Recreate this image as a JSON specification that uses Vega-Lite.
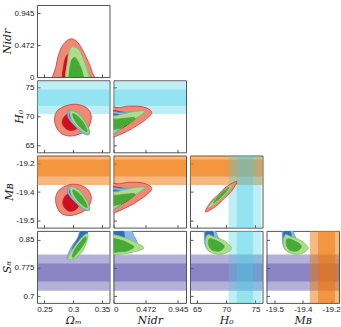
{
"$schema": "https://vega.github.io/schema/vega-lite/v6.json",
"padding": {"left": 1, "top": 4, "right": 3, "bottom": 0},
"columns": 4,
"bounds": "flush",
"spacing": {"row": 3.3, "column": 3.5},
"datasets": {
"bands": [
{"b":"H0","lo":70.4,"hi":76.0},{"b":"H0","lo":71.8,"hi":74.6},
{"b":"MB","lo":-19.344,"hi":-19.196},{"b":"MB","lo":-19.307,"hi":-19.233},
{"b":"S8","lo":0.7145,"hi":0.8105},{"b":"S8","lo":0.7385,"hi":0.7865}
],
"c": [
{"p":"a","g":"r1","i":0,"x":0.268,"y":-0.1},{"p":"a","g":"r1","i":1,"x":0.270,"y":0.16},{"p":"a","g":"r1","i":2,"x":0.279,"y":0.43},{"p":"a","g":"r1","i":3,"x":0.2936,"y":0.56},{"p":"a","g":"r1","i":4,"x":0.308,"y":0.51},{"p":"a","g":"r1","i":5,"x":0.3226,"y":0.29},{"p":"a","g":"r1","i":6,"x":0.333,"y":0.07},{"p":"a","g":"r1","i":7,"x":0.335,"y":-0.1},
{"p":"a","g":"r2","i":0,"x":0.283,"y":-0.1},{"p":"a","g":"r2","i":1,"x":0.284,"y":0.2},{"p":"a","g":"r2","i":2,"x":0.290,"y":0.33},{"p":"a","g":"r2","i":3,"x":0.298,"y":0.32},{"p":"a","g":"r2","i":4,"x":0.308,"y":0.2},{"p":"a","g":"r2","i":5,"x":0.313,"y":-0.1},
{"p":"a","g":"b1","i":0,"x":0.2905,"y":-0.1},{"p":"a","g":"b1","i":1,"x":0.2915,"y":0.12},{"p":"a","g":"b1","i":2,"x":0.300,"y":0.17},{"p":"a","g":"b1","i":3,"x":0.315,"y":0.13},{"p":"a","g":"b1","i":4,"x":0.3295,"y":0.02},{"p":"a","g":"b1","i":5,"x":0.330,"y":-0.1},
{"p":"a","g":"b2","i":0,"x":0.295,"y":-0.1},{"p":"a","g":"b2","i":1,"x":0.296,"y":0.08},{"p":"a","g":"b2","i":2,"x":0.305,"y":0.11},{"p":"a","g":"b2","i":3,"x":0.318,"y":0.04},{"p":"a","g":"b2","i":4,"x":0.32,"y":-0.1},
{"p":"a","g":"g1","i":0,"x":0.289,"y":-0.1},{"p":"a","g":"g1","i":1,"x":0.2905,"y":0.26},{"p":"a","g":"g1","i":2,"x":0.2935,"y":0.39},{"p":"a","g":"g1","i":3,"x":0.2995,"y":0.45},{"p":"a","g":"g1","i":4,"x":0.311,"y":0.39},{"p":"a","g":"g1","i":5,"x":0.3197,"y":0.22},{"p":"a","g":"g1","i":6,"x":0.327,"y":0.02},{"p":"a","g":"g1","i":7,"x":0.328,"y":-0.1},
{"p":"a","g":"g2","i":0,"x":0.294,"y":-0.1},{"p":"a","g":"g2","i":1,"x":0.2955,"y":0.2},{"p":"a","g":"g2","i":2,"x":0.302,"y":0.29},{"p":"a","g":"g2","i":3,"x":0.309,"y":0.22},{"p":"a","g":"g2","i":4,"x":0.3165,"y":0.05},{"p":"a","g":"g2","i":5,"x":0.318,"y":-0.1},

{"p":"b","g":"r1","i":0,"x":0.2995,"y":72.07},{"p":"b","g":"r1","i":1,"x":0.3226,"y":71.5},{"p":"b","g":"r1","i":2,"x":0.3314,"y":69.88},{"p":"b","g":"r1","i":3,"x":0.3226,"y":67.59},{"p":"b","g":"r1","i":4,"x":0.2965,"y":66.6},{"p":"b","g":"r1","i":5,"x":0.2761,"y":67.29},{"p":"b","g":"r1","i":6,"x":0.2674,"y":69.31},{"p":"b","g":"r1","i":7,"x":0.2744,"y":71.16},
{"p":"b","g":"r2","i":0,"x":0.296,"y":70.47},{"p":"b","g":"r2","i":1,"x":0.308,"y":69.9},{"p":"b","g":"r2","i":2,"x":0.311,"y":68.8},{"p":"b","g":"r2","i":3,"x":0.305,"y":67.8},{"p":"b","g":"r2","i":4,"x":0.293,"y":67.59},{"p":"b","g":"r2","i":5,"x":0.284,"y":68.2},{"p":"b","g":"r2","i":6,"x":0.2808,"y":69.1},{"p":"b","g":"r2","i":7,"x":0.286,"y":70.1},
{"p":"b","g":"b1","i":0,"x":0.293,"y":71.0},{"p":"b","g":"b1","i":1,"x":0.3092,"y":70.5},{"p":"b","g":"b1","i":2,"x":0.3186,"y":69.3},{"p":"b","g":"b1","i":3,"x":0.327,"y":67.9},{"p":"b","g":"b1","i":4,"x":0.328,"y":66.9},{"p":"b","g":"b1","i":5,"x":0.318,"y":67.0},{"p":"b","g":"b1","i":6,"x":0.303,"y":68.3},{"p":"b","g":"b1","i":7,"x":0.291,"y":69.8},
{"p":"b","g":"b2","i":0,"x":0.296,"y":70.6},{"p":"b","g":"b2","i":1,"x":0.31,"y":69.9},{"p":"b","g":"b2","i":2,"x":0.32,"y":68.4},{"p":"b","g":"b2","i":3,"x":0.325,"y":67.3},{"p":"b","g":"b2","i":4,"x":0.317,"y":67.5},{"p":"b","g":"b2","i":5,"x":0.303,"y":68.8},{"p":"b","g":"b2","i":6,"x":0.294,"y":69.9},
{"p":"b","g":"g1","i":0,"x":0.2953,"y":70.91},{"p":"b","g":"g1","i":1,"x":0.3092,"y":70.42},{"p":"b","g":"g1","i":2,"x":0.3186,"y":69.26},{"p":"b","g":"g1","i":3,"x":0.3260,"y":67.93},{"p":"b","g":"g1","i":4,"x":0.3267,"y":67.02},{"p":"b","g":"g1","i":5,"x":0.3179,"y":67.28},{"p":"b","g":"g1","i":6,"x":0.3064,"y":68.29},{"p":"b","g":"g1","i":7,"x":0.2970,"y":69.46},
{"p":"b","g":"g2","i":0,"x":0.2991,"y":70.45},{"p":"b","g":"g2","i":1,"x":0.3098,"y":69.83},{"p":"b","g":"g2","i":2,"x":0.3192,"y":68.66},{"p":"b","g":"g2","i":3,"x":0.3242,"y":67.33},{"p":"b","g":"g2","i":4,"x":0.3122,"y":68.10},{"p":"b","g":"g2","i":5,"x":0.3028,"y":69.28},

{"p":"c","g":"r1","i":0,"x":-0.1,"y":71.1},{"p":"c","g":"r1","i":1,"x":0.1,"y":71.5},{"p":"c","g":"r1","i":2,"x":0.226,"y":71.75},{"p":"c","g":"r1","i":3,"x":0.442,"y":71.6},{"p":"c","g":"r1","i":4,"x":0.561,"y":70.74},{"p":"c","g":"r1","i":5,"x":0.489,"y":69.6},{"p":"c","g":"r1","i":6,"x":0.273,"y":67.88},{"p":"c","g":"r1","i":7,"x":0.033,"y":66.55},{"p":"c","g":"r1","i":8,"x":-0.1,"y":66.3},
{"p":"c","g":"r2","i":0,"x":-0.1,"y":70.8},{"p":"c","g":"r2","i":1,"x":0.1,"y":70.8},{"p":"c","g":"r2","i":2,"x":0.2,"y":70.4},{"p":"c","g":"r2","i":3,"x":0.3,"y":69.6},{"p":"c","g":"r2","i":4,"x":0.2,"y":68.5},{"p":"c","g":"r2","i":5,"x":0.05,"y":67.6},{"p":"c","g":"r2","i":6,"x":-0.1,"y":67.5},
{"p":"c","g":"b1","i":0,"x":-0.1,"y":70.6},{"p":"c","g":"b1","i":1,"x":0.1,"y":70.7},{"p":"c","g":"b1","i":2,"x":0.25,"y":70.7},{"p":"c","g":"b1","i":3,"x":0.4,"y":70.9},{"p":"c","g":"b1","i":4,"x":0.45,"y":70.7},{"p":"c","g":"b1","i":5,"x":0.3,"y":69.6},{"p":"c","g":"b1","i":6,"x":0.12,"y":68.0},{"p":"c","g":"b1","i":7,"x":0.02,"y":67.1},{"p":"c","g":"b1","i":8,"x":-0.1,"y":67.0},
{"p":"c","g":"b2","i":0,"x":-0.1,"y":70.3},{"p":"c","g":"b2","i":1,"x":0.1,"y":70.3},{"p":"c","g":"b2","i":2,"x":0.2,"y":70.0},{"p":"c","g":"b2","i":3,"x":0.15,"y":69.0},{"p":"c","g":"b2","i":4,"x":0.03,"y":68.3},{"p":"c","g":"b2","i":5,"x":-0.1,"y":68.2},
{"p":"c","g":"g1","i":0,"x":-0.1,"y":69.9},{"p":"c","g":"g1","i":1,"x":0.033,"y":70.1},{"p":"c","g":"g1","i":2,"x":0.226,"y":70.64},{"p":"c","g":"g1","i":3,"x":0.393,"y":70.93},{"p":"c","g":"g1","i":4,"x":0.456,"y":70.74},{"p":"c","g":"g1","i":5,"x":0.321,"y":69.6},{"p":"c","g":"g1","i":6,"x":0.129,"y":68.16},{"p":"c","g":"g1","i":7,"x":0.024,"y":67.29},{"p":"c","g":"g1","i":8,"x":-0.1,"y":67.1},
{"p":"c","g":"g2","i":0,"x":-0.1,"y":69.5},{"p":"c","g":"g2","i":1,"x":0.05,"y":69.5},{"p":"c","g":"g2","i":2,"x":0.2,"y":69.7},{"p":"c","g":"g2","i":3,"x":0.3,"y":69.8},{"p":"c","g":"g2","i":4,"x":0.31,"y":69.4},{"p":"c","g":"g2","i":5,"x":0.2,"y":68.6},{"p":"c","g":"g2","i":6,"x":0.08,"y":67.9},{"p":"c","g":"g2","i":7,"x":-0.1,"y":67.7},

{"p":"d","g":"r1","i":0,"x":0.2995,"y":-19.3405},{"p":"d","g":"r1","i":1,"x":0.3226,"y":-19.3578},{"p":"d","g":"r1","i":2,"x":0.3314,"y":-19.4009},{"p":"d","g":"r1","i":3,"x":0.3226,"y":-19.4509},{"p":"d","g":"r1","i":4,"x":0.2977,"y":-19.4767},{"p":"d","g":"r1","i":5,"x":0.2779,"y":-19.4655},{"p":"d","g":"r1","i":6,"x":0.2692,"y":-19.412},{"p":"d","g":"r1","i":7,"x":0.2761,"y":-19.3647},
{"p":"d","g":"r2","i":0,"x":0.296,"y":-19.3793},{"p":"d","g":"r2","i":1,"x":0.308,"y":-19.39},{"p":"d","g":"r2","i":2,"x":0.311,"y":-19.42},{"p":"d","g":"r2","i":3,"x":0.305,"y":-19.45},{"p":"d","g":"r2","i":4,"x":0.293,"y":-19.4582},{"p":"d","g":"r2","i":5,"x":0.284,"y":-19.44},{"p":"d","g":"r2","i":6,"x":0.2821,"y":-19.415},{"p":"d","g":"r2","i":7,"x":0.287,"y":-19.39},
{"p":"d","g":"b1","i":0,"x":0.293,"y":-19.3513},{"p":"d","g":"b1","i":1,"x":0.3092,"y":-19.3638},{"p":"d","g":"b1","i":2,"x":0.3186,"y":-19.3938},{"p":"d","g":"b1","i":3,"x":0.327,"y":-19.4288},{"p":"d","g":"b1","i":4,"x":0.328,"y":-19.4538},{"p":"d","g":"b1","i":5,"x":0.318,"y":-19.4513},{"p":"d","g":"b1","i":6,"x":0.303,"y":-19.4188},{"p":"d","g":"b1","i":7,"x":0.291,"y":-19.3813},
{"p":"d","g":"b2","i":0,"x":0.296,"y":-19.3613},{"p":"d","g":"b2","i":1,"x":0.31,"y":-19.3788},{"p":"d","g":"b2","i":2,"x":0.32,"y":-19.4163},{"p":"d","g":"b2","i":3,"x":0.325,"y":-19.4438},{"p":"d","g":"b2","i":4,"x":0.317,"y":-19.4388},{"p":"d","g":"b2","i":5,"x":0.303,"y":-19.4063},{"p":"d","g":"b2","i":6,"x":0.294,"y":-19.3788},
{"p":"d","g":"g1","i":0,"x":0.2953,"y":-19.3534},{"p":"d","g":"g1","i":1,"x":0.3092,"y":-19.3657},{"p":"d","g":"g1","i":2,"x":0.3186,"y":-19.3948},{"p":"d","g":"g1","i":3,"x":0.3260,"y":-19.428},{"p":"d","g":"g1","i":4,"x":0.3267,"y":-19.4509},{"p":"d","g":"g1","i":5,"x":0.3179,"y":-19.4444},{"p":"d","g":"g1","i":6,"x":0.3064,"y":-19.419},{"p":"d","g":"g1","i":7,"x":0.2970,"y":-19.3899},
{"p":"d","g":"g2","i":0,"x":0.2991,"y":-19.3651},{"p":"d","g":"g2","i":1,"x":0.3098,"y":-19.3806},{"p":"d","g":"g2","i":2,"x":0.3192,"y":-19.4099},{"p":"d","g":"g2","i":3,"x":0.3242,"y":-19.4431},{"p":"d","g":"g2","i":4,"x":0.3122,"y":-19.4237},{"p":"d","g":"g2","i":5,"x":0.3028,"y":-19.3944},

{"p":"e","g":"r1","i":0,"x":-0.1,"y":-19.3488},{"p":"e","g":"r1","i":1,"x":0.1,"y":-19.3388},{"p":"e","g":"r1","i":2,"x":0.226,"y":-19.3326},{"p":"e","g":"r1","i":3,"x":0.442,"y":-19.3363},{"p":"e","g":"r1","i":4,"x":0.561,"y":-19.3578},{"p":"e","g":"r1","i":5,"x":0.489,"y":-19.3863},{"p":"e","g":"r1","i":6,"x":0.273,"y":-19.4293},{"p":"e","g":"r1","i":7,"x":0.033,"y":-19.4626},{"p":"e","g":"r1","i":8,"x":-0.1,"y":-19.4688},
{"p":"e","g":"r2","i":0,"x":-0.1,"y":-19.3563},{"p":"e","g":"r2","i":1,"x":0.1,"y":-19.3563},{"p":"e","g":"r2","i":2,"x":0.2,"y":-19.3663},{"p":"e","g":"r2","i":3,"x":0.3,"y":-19.3863},{"p":"e","g":"r2","i":4,"x":0.2,"y":-19.4138},{"p":"e","g":"r2","i":5,"x":0.05,"y":-19.4363},{"p":"e","g":"r2","i":6,"x":-0.1,"y":-19.4388},
{"p":"e","g":"b1","i":0,"x":-0.1,"y":-19.3613},{"p":"e","g":"b1","i":1,"x":0.1,"y":-19.3588},{"p":"e","g":"b1","i":2,"x":0.25,"y":-19.3588},{"p":"e","g":"b1","i":3,"x":0.4,"y":-19.3538},{"p":"e","g":"b1","i":4,"x":0.45,"y":-19.3588},{"p":"e","g":"b1","i":5,"x":0.3,"y":-19.3863},{"p":"e","g":"b1","i":6,"x":0.12,"y":-19.4263},{"p":"e","g":"b1","i":7,"x":0.02,"y":-19.4488},{"p":"e","g":"b1","i":8,"x":-0.1,"y":-19.4513},
{"p":"e","g":"b2","i":0,"x":-0.1,"y":-19.3688},{"p":"e","g":"b2","i":1,"x":0.1,"y":-19.3688},{"p":"e","g":"b2","i":2,"x":0.2,"y":-19.3763},{"p":"e","g":"b2","i":3,"x":0.15,"y":-19.4013},{"p":"e","g":"b2","i":4,"x":0.03,"y":-19.4188},{"p":"e","g":"b2","i":5,"x":-0.1,"y":-19.4213},
{"p":"e","g":"g1","i":0,"x":-0.1,"y":-19.3788},{"p":"e","g":"g1","i":1,"x":0.033,"y":-19.3738},{"p":"e","g":"g1","i":2,"x":0.226,"y":-19.3603},{"p":"e","g":"g1","i":3,"x":0.393,"y":-19.353},{"p":"e","g":"g1","i":4,"x":0.456,"y":-19.3578},{"p":"e","g":"g1","i":5,"x":0.321,"y":-19.3863},{"p":"e","g":"g1","i":6,"x":0.129,"y":-19.4223},{"p":"e","g":"g1","i":7,"x":0.024,"y":-19.4441},{"p":"e","g":"g1","i":8,"x":-0.1,"y":-19.4488},
{"p":"e","g":"g2","i":0,"x":-0.1,"y":-19.3888},{"p":"e","g":"g2","i":1,"x":0.05,"y":-19.3888},{"p":"e","g":"g2","i":2,"x":0.2,"y":-19.3838},{"p":"e","g":"g2","i":3,"x":0.3,"y":-19.3813},{"p":"e","g":"g2","i":4,"x":0.31,"y":-19.3913},{"p":"e","g":"g2","i":5,"x":0.2,"y":-19.4113},{"p":"e","g":"g2","i":6,"x":0.08,"y":-19.4288},{"p":"e","g":"g2","i":7,"x":-0.1,"y":-19.4338},

{"p":"f","g":"r1","i":0,"x":66.43,"y":-19.4612},{"p":"f","g":"r1","i":1,"x":67.34,"y":-19.4181},{"p":"f","g":"r1","i":2,"x":68.68,"y":-19.3849},{"p":"f","g":"r1","i":3,"x":70.02,"y":-19.3522},{"p":"f","g":"r1","i":4,"x":71.79,"y":-19.3289},{"p":"f","g":"r1","i":5,"x":70.875,"y":-19.372},{"p":"f","g":"r1","i":6,"x":69.54,"y":-19.4052},{"p":"f","g":"r1","i":7,"x":68.20,"y":-19.4379},
{"p":"f","g":"g1","i":0,"x":66.91,"y":-19.444},{"p":"f","g":"g1","i":1,"x":68.07,"y":-19.4039},{"p":"f","g":"g1","i":2,"x":69.54,"y":-19.3685},{"p":"f","g":"g1","i":3,"x":71.2,"y":-19.3405},{"p":"f","g":"g1","i":4,"x":70.04,"y":-19.3806},{"p":"f","g":"g1","i":5,"x":68.57,"y":-19.416},
{"p":"f","g":"g2","i":0,"x":67.80,"y":-19.4224},{"p":"f","g":"g2","i":1,"x":68.446,"y":-19.3987},{"p":"f","g":"g2","i":2,"x":69.518,"y":-19.3716},{"p":"f","g":"g2","i":3,"x":70.48,"y":-19.3547},{"p":"f","g":"g2","i":4,"x":69.839,"y":-19.3784},{"p":"f","g":"g2","i":5,"x":68.768,"y":-19.4056},

{"p":"g","g":"b1","i":0,"x":0.3145,"y":0.89},{"p":"g","g":"b1","i":1,"x":0.329,"y":0.89},{"p":"g","g":"b1","i":2,"x":0.3256,"y":0.872},{"p":"g","g":"b1","i":3,"x":0.3226,"y":0.852},{"p":"g","g":"b1","i":4,"x":0.311,"y":0.8253},{"p":"g","g":"b1","i":5,"x":0.2995,"y":0.8033},{"p":"g","g":"b1","i":6,"x":0.2918,"y":0.797},{"p":"g","g":"b1","i":7,"x":0.2895,"y":0.8033},{"p":"g","g":"b1","i":8,"x":0.2965,"y":0.8298},{"p":"g","g":"b1","i":9,"x":0.3082,"y":0.8564},
{"p":"g","g":"b2","i":0,"x":0.3175,"y":0.89},{"p":"g","g":"b2","i":1,"x":0.327,"y":0.89},{"p":"g","g":"b2","i":2,"x":0.3235,"y":0.865},{"p":"g","g":"b2","i":3,"x":0.316,"y":0.845},{"p":"g","g":"b2","i":4,"x":0.305,"y":0.826},{"p":"g","g":"b2","i":5,"x":0.2985,"y":0.818},{"p":"g","g":"b2","i":6,"x":0.2995,"y":0.83},{"p":"g","g":"b2","i":7,"x":0.3095,"y":0.857},
{"p":"g","g":"g1","i":0,"x":0.2908,"y":0.8007},{"p":"g","g":"g1","i":1,"x":0.2995,"y":0.8253},{"p":"g","g":"g1","i":2,"x":0.3127,"y":0.8519},{"p":"g","g":"g1","i":3,"x":0.3226,"y":0.8651},{"p":"g","g":"g1","i":4,"x":0.3256,"y":0.8564},{"p":"g","g":"g1","i":5,"x":0.3169,"y":0.8208},{"p":"g","g":"g1","i":6,"x":0.3052,"y":0.8033},{"p":"g","g":"g1","i":7,"x":0.2953,"y":0.797},
{"p":"g","g":"g2","i":0,"x":0.2985,"y":0.806},{"p":"g","g":"g2","i":1,"x":0.302,"y":0.822},{"p":"g","g":"g2","i":2,"x":0.312,"y":0.843},{"p":"g","g":"g2","i":3,"x":0.3205,"y":0.857},{"p":"g","g":"g2","i":4,"x":0.3225,"y":0.85},{"p":"g","g":"g2","i":5,"x":0.315,"y":0.83},{"p":"g","g":"g2","i":6,"x":0.3055,"y":0.812},{"p":"g","g":"g2","i":7,"x":0.3,"y":0.803},

{"p":"h","g":"b1","i":0,"x":-0.1,"y":0.89},{"p":"h","g":"b1","i":1,"x":0.2,"y":0.89},{"p":"h","g":"b1","i":2,"x":0.3,"y":0.86},{"p":"h","g":"b1","i":3,"x":0.35,"y":0.84},{"p":"h","g":"b1","i":4,"x":0.3,"y":0.826},{"p":"h","g":"b1","i":5,"x":0.15,"y":0.815},{"p":"h","g":"b1","i":6,"x":0,"y":0.812},{"p":"h","g":"b1","i":7,"x":-0.1,"y":0.81},
{"p":"h","g":"b2","i":0,"x":-0.1,"y":0.89},{"p":"h","g":"b2","i":1,"x":0.1,"y":0.89},{"p":"h","g":"b2","i":2,"x":0.16,"y":0.86},{"p":"h","g":"b2","i":3,"x":0.12,"y":0.845},{"p":"h","g":"b2","i":4,"x":0.03,"y":0.835},{"p":"h","g":"b2","i":5,"x":-0.1,"y":0.833},
{"p":"h","g":"g1","i":0,"x":-0.1,"y":0.863},{"p":"h","g":"g1","i":1,"x":0,"y":0.863},{"p":"h","g":"g1","i":2,"x":0.13,"y":0.857},{"p":"h","g":"g1","i":3,"x":0.273,"y":0.8466},{"p":"h","g":"g1","i":4,"x":0.446,"y":0.828},{"p":"h","g":"g1","i":5,"x":0.273,"y":0.816},{"p":"h","g":"g1","i":6,"x":0.13,"y":0.812},{"p":"h","g":"g1","i":7,"x":0,"y":0.8105},{"p":"h","g":"g1","i":8,"x":-0.1,"y":0.81},
{"p":"h","g":"g2","i":0,"x":-0.1,"y":0.852},{"p":"h","g":"g2","i":1,"x":0.1,"y":0.849},{"p":"h","g":"g2","i":2,"x":0.22,"y":0.84},{"p":"h","g":"g2","i":3,"x":0.3,"y":0.83},{"p":"h","g":"g2","i":4,"x":0.2,"y":0.82},{"p":"h","g":"g2","i":5,"x":0.08,"y":0.818},{"p":"h","g":"g2","i":6,"x":-0.1,"y":0.817},

{"p":"k","g":"b1","i":0,"x":66.43,"y":0.878},{"p":"k","g":"b1","i":1,"x":67.86,"y":0.878},{"p":"k","g":"b1","i":2,"x":68.57,"y":0.857},{"p":"k","g":"b1","i":3,"x":69.29,"y":0.8412},{"p":"k","g":"b1","i":4,"x":68.57,"y":0.8253},{"p":"k","g":"b1","i":5,"x":67.14,"y":0.82},{"p":"k","g":"b1","i":6,"x":66.43,"y":0.8333},{"p":"k","g":"b1","i":7,"x":66.25,"y":0.857},
{"p":"k","g":"b2","i":0,"x":66.61,"y":0.878},{"p":"k","g":"b2","i":1,"x":67.5,"y":0.878},{"p":"k","g":"b2","i":2,"x":67.86,"y":0.857},{"p":"k","g":"b2","i":3,"x":67.5,"y":0.8412},{"p":"k","g":"b2","i":4,"x":66.79,"y":0.8386},{"p":"k","g":"b2","i":5,"x":66.43,"y":0.857},
{"p":"k","g":"g1","i":0,"x":66.79,"y":0.8625},{"p":"k","g":"g1","i":1,"x":67.86,"y":0.8572},{"p":"k","g":"g1","i":2,"x":69.64,"y":0.8466},{"p":"k","g":"g1","i":3,"x":70.89,"y":0.828},{"p":"k","g":"g1","i":4,"x":70.0,"y":0.8147},{"p":"k","g":"g1","i":5,"x":68.57,"y":0.8107},{"p":"k","g":"g1","i":6,"x":66.96,"y":0.82},{"p":"k","g":"g1","i":7,"x":66.43,"y":0.8412},
{"p":"k","g":"g2","i":0,"x":67.14,"y":0.8519},{"p":"k","g":"g2","i":1,"x":68.39,"y":0.8466},{"p":"k","g":"g2","i":2,"x":69.64,"y":0.8333},{"p":"k","g":"g2","i":3,"x":68.93,"y":0.82},{"p":"k","g":"g2","i":4,"x":67.5,"y":0.8227},{"p":"k","g":"g2","i":5,"x":66.96,"y":0.8386},

{"p":"m","g":"b1","i":0,"x":-19.4605,"y":0.878},{"p":"m","g":"b1","i":1,"x":-19.4254,"y":0.878},{"p":"m","g":"b1","i":2,"x":-19.4079,"y":0.857},{"p":"m","g":"b1","i":3,"x":-19.3904,"y":0.8412},{"p":"m","g":"b1","i":4,"x":-19.4079,"y":0.8253},{"p":"m","g":"b1","i":5,"x":-19.443,"y":0.82},{"p":"m","g":"b1","i":6,"x":-19.4605,"y":0.8333},{"p":"m","g":"b1","i":7,"x":-19.4649,"y":0.857},
{"p":"m","g":"b2","i":0,"x":-19.4561,"y":0.878},{"p":"m","g":"b2","i":1,"x":-19.4342,"y":0.878},{"p":"m","g":"b2","i":2,"x":-19.4254,"y":0.857},{"p":"m","g":"b2","i":3,"x":-19.4342,"y":0.8412},{"p":"m","g":"b2","i":4,"x":-19.4518,"y":0.8386},{"p":"m","g":"b2","i":5,"x":-19.4605,"y":0.857},
{"p":"m","g":"g1","i":0,"x":-19.4518,"y":0.8625},{"p":"m","g":"g1","i":1,"x":-19.4254,"y":0.8572},{"p":"m","g":"g1","i":2,"x":-19.3816,"y":0.8466},{"p":"m","g":"g1","i":3,"x":-19.3509,"y":0.828},{"p":"m","g":"g1","i":4,"x":-19.3728,"y":0.8147},{"p":"m","g":"g1","i":5,"x":-19.4079,"y":0.8107},{"p":"m","g":"g1","i":6,"x":-19.4474,"y":0.82},{"p":"m","g":"g1","i":7,"x":-19.4605,"y":0.8412},
{"p":"m","g":"g2","i":0,"x":-19.443,"y":0.8519},{"p":"m","g":"g2","i":1,"x":-19.4123,"y":0.8466},{"p":"m","g":"g2","i":2,"x":-19.3816,"y":0.8333},{"p":"m","g":"g2","i":3,"x":-19.3991,"y":0.82},{"p":"m","g":"g2","i":4,"x":-19.4342,"y":0.8227},{"p":"m","g":"g2","i":5,"x":-19.4474,"y":0.8386}
]
},
"concat": [
{"width":72.5,"height":72,"layer":[
 {"data":{"name":"c"},"transform":[{"filter":"datum.p=='a'"}],
  "mark":{"type":"line","interpolate":"cardinal-closed","strokeWidth":0.8,"clip":true},
  "encoding":{
   "x":{"field":"x","type":"quantitative","scale":{"domain":[0.237,0.363],"nice":false,"zero":false},"axis":{"values":[0.25,0.3,0.35],"labels":false,"title":null}},
   "y":{"field":"y","type":"quantitative","scale":{"domain":[0,1.065],"nice":false,"zero":false},"axis":{"values":[0,0.4725,0.945],"labelExpr":"datum.value == 0 ? '0' : datum.value < 0.5 ? '0.472' : '0.945'","title":"Nidr"}},
   "order":{"field":"i","type":"quantitative"},
   "fill":{"field":"g","type":"nominal","scale":{"domain":["r1","r2","b1","b2","g1","g2"],"range":["#ec8a74","#cf0f1f","#8ab9e6","#2e6fba","#addb8f","#47a936"]},"legend":null},
   "stroke":{"field":"g","type":"nominal","scale":{"domain":["r1","r2","b1","b2","g1","g2"],"range":["#dc2f3c","#cf0f1f","#5c95d2","#2e6fba","#82c466","#47a936"]},"legend":null}}}
]},
{"width":72.5,"height":72,"data":{"values":[{"e":1}]},"mark":{"type":"point","opacity":0},"encoding":{},"view":{"stroke":null}},
{"width":72.5,"height":72,"data":{"values":[{"e":1}]},"mark":{"type":"point","opacity":0},"encoding":{},"view":{"stroke":null}},
{"width":72.5,"height":72,"data":{"values":[{"e":1}]},"mark":{"type":"point","opacity":0},"encoding":{},"view":{"stroke":null}},

{"width":72.5,"height":72,"layer":[
 {"data":{"name":"bands"},"transform":[{"filter":"datum.b=='H0'"}],"mark":{"type":"rect","clip":true,"fill":"#40cde5","fillOpacity":0.34},
  "encoding":{
   "x":{"datum":0.2,"type":"quantitative","scale":{"domain":[0.237,0.363],"nice":false,"zero":false},"axis":{"values":[0.25,0.3,0.35],"labels":false,"title":null}},"x2":{"datum":0.4},
   "y":{"field":"lo","type":"quantitative","scale":{"domain":[63.8,76.2],"nice":false,"zero":false},"axis":{"values":[65,70,75],"format":"~g","title":"H₀"}},"y2":{"field":"hi"}}},
 {"data":{"name":"c"},"transform":[{"filter":"datum.p=='b'"}],
  "mark":{"type":"line","interpolate":"cardinal-closed","strokeWidth":0.8,"clip":true},
  "encoding":{
   "x":{"field":"x","type":"quantitative","scale":{"domain":[0.237,0.363],"nice":false,"zero":false},"axis":{"values":[0.25,0.3,0.35],"labels":false,"title":null}},
   "y":{"field":"y","type":"quantitative","scale":{"domain":[63.8,76.2],"nice":false,"zero":false},"axis":{"values":[65,70,75],"format":"~g","title":"H₀"}},
   "order":{"field":"i","type":"quantitative"},
   "fill":{"field":"g","type":"nominal","scale":{"domain":["r1","r2","b1","b2","g1","g2"],"range":["#ec8a74","#cf0f1f","#8ab9e6","#2e6fba","#addb8f","#47a936"]},"legend":null},
   "stroke":{"field":"g","type":"nominal","scale":{"domain":["r1","r2","b1","b2","g1","g2"],"range":["#dc2f3c","#cf0f1f","#5c95d2","#2e6fba","#82c466","#47a936"]},"legend":null}}}
]},
{"width":72.5,"height":72,"layer":[
 {"data":{"name":"bands"},"transform":[{"filter":"datum.b=='H0'"}],"mark":{"type":"rect","clip":true,"fill":"#40cde5","fillOpacity":0.34},
  "encoding":{
   "x":{"datum":-0.5,"type":"quantitative","scale":{"domain":[0,1.065],"nice":false,"zero":false},"axis":{"values":[0,0.4725,0.945],"labels":false,"title":null}},"x2":{"datum":2},
   "y":{"field":"lo","type":"quantitative","scale":{"domain":[63.8,76.2],"nice":false,"zero":false},"axis":{"values":[65,70,75],"labels":false,"title":null}},"y2":{"field":"hi"}}},
 {"data":{"name":"c"},"transform":[{"filter":"datum.p=='c'"}],
  "mark":{"type":"line","interpolate":"cardinal-closed","strokeWidth":0.8,"clip":true},
  "encoding":{
   "x":{"field":"x","type":"quantitative","scale":{"domain":[0,1.065],"nice":false,"zero":false},"axis":{"values":[0,0.4725,0.945],"labels":false,"title":null}},
   "y":{"field":"y","type":"quantitative","scale":{"domain":[63.8,76.2],"nice":false,"zero":false},"axis":{"values":[65,70,75],"labels":false,"title":null}},
   "order":{"field":"i","type":"quantitative"},
   "fill":{"field":"g","type":"nominal","scale":{"domain":["r1","r2","b1","b2","g1","g2"],"range":["#ec8a74","#cf0f1f","#8ab9e6","#2e6fba","#addb8f","#47a936"]},"legend":null},
   "stroke":{"field":"g","type":"nominal","scale":{"domain":["r1","r2","b1","b2","g1","g2"],"range":["#dc2f3c","#cf0f1f","#5c95d2","#2e6fba","#82c466","#47a936"]},"legend":null}}}
]},
{"width":72.5,"height":72,"data":{"values":[{"e":1}]},"mark":{"type":"point","opacity":0},"encoding":{},"view":{"stroke":null}},
{"width":72.5,"height":72,"data":{"values":[{"e":1}]},"mark":{"type":"point","opacity":0},"encoding":{},"view":{"stroke":null}},

{"width":72.5,"height":72,"layer":[
 {"data":{"name":"bands"},"transform":[{"filter":"datum.b=='MB'"}],"mark":{"type":"rect","clip":true,"fill":"#f07300","fillOpacity":0.5},
  "encoding":{
   "x":{"datum":0.2,"type":"quantitative","scale":{"domain":[0.237,0.363],"nice":false,"zero":false},"axis":{"values":[0.25,0.3,0.35],"labels":false,"title":null}},"x2":{"datum":0.4},
   "y":{"field":"lo","type":"quantitative","scale":{"domain":[-19.53,-19.216],"nice":false,"zero":false},"axis":{"values":[-19.5,-19.375,-19.25],"labelExpr":"datum.value > -19.3 ? '-19.2' : datum.value > -19.45 ? '-19.4' : '-19.5'","title":"Mʙ"}},"y2":{"field":"hi"}}},
 {"data":{"name":"c"},"transform":[{"filter":"datum.p=='d'"}],
  "mark":{"type":"line","interpolate":"cardinal-closed","strokeWidth":0.8,"clip":true},
  "encoding":{
   "x":{"field":"x","type":"quantitative","scale":{"domain":[0.237,0.363],"nice":false,"zero":false},"axis":{"values":[0.25,0.3,0.35],"labels":false,"title":null}},
   "y":{"field":"y","type":"quantitative","scale":{"domain":[-19.53,-19.216],"nice":false,"zero":false},"axis":{"values":[-19.5,-19.375,-19.25],"labelExpr":"datum.value > -19.3 ? '-19.2' : datum.value > -19.45 ? '-19.4' : '-19.5'","title":"Mʙ"}},
   "order":{"field":"i","type":"quantitative"},
   "fill":{"field":"g","type":"nominal","scale":{"domain":["r1","r2","b1","b2","g1","g2"],"range":["#ec8a74","#cf0f1f","#8ab9e6","#2e6fba","#addb8f","#47a936"]},"legend":null},
   "stroke":{"field":"g","type":"nominal","scale":{"domain":["r1","r2","b1","b2","g1","g2"],"range":["#dc2f3c","#cf0f1f","#5c95d2","#2e6fba","#82c466","#47a936"]},"legend":null}}}
]},
{"width":72.5,"height":72,"layer":[
 {"data":{"name":"bands"},"transform":[{"filter":"datum.b=='MB'"}],"mark":{"type":"rect","clip":true,"fill":"#f07300","fillOpacity":0.5},
  "encoding":{
   "x":{"datum":-0.5,"type":"quantitative","scale":{"domain":[0,1.065],"nice":false,"zero":false},"axis":{"values":[0,0.4725,0.945],"labels":false,"title":null}},"x2":{"datum":2},
   "y":{"field":"lo","type":"quantitative","scale":{"domain":[-19.53,-19.216],"nice":false,"zero":false},"axis":{"values":[-19.5,-19.375,-19.25],"labels":false,"title":null}},"y2":{"field":"hi"}}},
 {"data":{"name":"c"},"transform":[{"filter":"datum.p=='e'"}],
  "mark":{"type":"line","interpolate":"cardinal-closed","strokeWidth":0.8,"clip":true},
  "encoding":{
   "x":{"field":"x","type":"quantitative","scale":{"domain":[0,1.065],"nice":false,"zero":false},"axis":{"values":[0,0.4725,0.945],"labels":false,"title":null}},
   "y":{"field":"y","type":"quantitative","scale":{"domain":[-19.53,-19.216],"nice":false,"zero":false},"axis":{"values":[-19.5,-19.375,-19.25],"labels":false,"title":null}},
   "order":{"field":"i","type":"quantitative"},
   "fill":{"field":"g","type":"nominal","scale":{"domain":["r1","r2","b1","b2","g1","g2"],"range":["#ec8a74","#cf0f1f","#8ab9e6","#2e6fba","#addb8f","#47a936"]},"legend":null},
   "stroke":{"field":"g","type":"nominal","scale":{"domain":["r1","r2","b1","b2","g1","g2"],"range":["#dc2f3c","#cf0f1f","#5c95d2","#2e6fba","#82c466","#47a936"]},"legend":null}}}
]},
{"width":72.5,"height":72,"layer":[
 {"data":{"name":"bands"},"transform":[{"filter":"datum.b=='MB'"}],"mark":{"type":"rect","clip":true,"fill":"#f07300","fillOpacity":0.5},
  "encoding":{
   "x":{"datum":60,"type":"quantitative","scale":{"domain":[63.8,76.2],"nice":false,"zero":false},"axis":{"values":[65,70,75],"labels":false,"title":null}},"x2":{"datum":80},
   "y":{"field":"lo","type":"quantitative","scale":{"domain":[-19.53,-19.216],"nice":false,"zero":false},"axis":{"values":[-19.5,-19.375,-19.25],"labels":false,"title":null}},"y2":{"field":"hi"}}},
 {"data":{"name":"bands"},"transform":[{"filter":"datum.b=='H0'"}],"mark":{"type":"rect","clip":true,"fill":"#40cde5","fillOpacity":0.34},
  "encoding":{
   "y":{"datum":-19.6,"type":"quantitative","scale":{"domain":[-19.53,-19.216],"nice":false,"zero":false},"axis":{"values":[-19.5,-19.375,-19.25],"labels":false,"title":null}},"y2":{"datum":-19.1},
   "x":{"field":"lo","type":"quantitative","scale":{"domain":[63.8,76.2],"nice":false,"zero":false},"axis":{"values":[65,70,75],"labels":false,"title":null}},"x2":{"field":"hi"}}},
 {"data":{"name":"c"},"transform":[{"filter":"datum.p=='f'"}],
  "mark":{"type":"line","interpolate":"cardinal-closed","strokeWidth":0.8,"clip":true},
  "encoding":{
   "x":{"field":"x","type":"quantitative","scale":{"domain":[63.8,76.2],"nice":false,"zero":false},"axis":{"values":[65,70,75],"labels":false,"title":null}},
   "y":{"field":"y","type":"quantitative","scale":{"domain":[-19.53,-19.216],"nice":false,"zero":false},"axis":{"values":[-19.5,-19.375,-19.25],"labels":false,"title":null}},
   "order":{"field":"i","type":"quantitative"},
   "fill":{"field":"g","type":"nominal","scale":{"domain":["r1","r2","b1","b2","g1","g2"],"range":["#ec8a74","#cf0f1f","#8ab9e6","#2e6fba","#addb8f","#47a936"]},"legend":null},
   "stroke":{"field":"g","type":"nominal","scale":{"domain":["r1","r2","b1","b2","g1","g2"],"range":["#dc2f3c","#cf0f1f","#5c95d2","#2e6fba","#82c466","#47a936"]},"legend":null}}}
]},
{"width":72.5,"height":72,"data":{"values":[{"e":1}]},"mark":{"type":"point","opacity":0},"encoding":{},"view":{"stroke":null}},

{"width":72.5,"height":72,"layer":[
 {"data":{"name":"bands"},"transform":[{"filter":"datum.b=='S8'"}],"mark":{"type":"rect","clip":true,"fill":"#5a4fa8","fillOpacity":0.45},
  "encoding":{
   "x":{"datum":0.2,"type":"quantitative","scale":{"domain":[0.237,0.363],"nice":false,"zero":false},"axis":{"values":[0.25,0.3,0.35],"format":"~g","title":"Ωₘ"}},"x2":{"datum":0.4},
   "y":{"field":"lo","type":"quantitative","scale":{"domain":[0.682,0.873],"nice":false,"zero":false},"axis":{"values":[0.7,0.775,0.85],"labelExpr":"datum.value < 0.75 ? '0.7' : datum.value < 0.8 ? '0.775' : '0.85'","title":"S₈"}},"y2":{"field":"hi"}}},
 {"data":{"name":"c"},"transform":[{"filter":"datum.p=='g'"}],
  "mark":{"type":"line","interpolate":"cardinal-closed","strokeWidth":0.8,"clip":true},
  "encoding":{
   "x":{"field":"x","type":"quantitative","scale":{"domain":[0.237,0.363],"nice":false,"zero":false},"axis":{"values":[0.25,0.3,0.35],"format":"~g","title":"Ωₘ"}},
   "y":{"field":"y","type":"quantitative","scale":{"domain":[0.682,0.873],"nice":false,"zero":false},"axis":{"values":[0.7,0.775,0.85],"labelExpr":"datum.value < 0.75 ? '0.7' : datum.value < 0.8 ? '0.775' : '0.85'","title":"S₈"}},
   "order":{"field":"i","type":"quantitative"},
   "fill":{"field":"g","type":"nominal","scale":{"domain":["r1","r2","b1","b2","g1","g2"],"range":["#ec8a74","#cf0f1f","#8ab9e6","#2e6fba","#addb8f","#47a936"]},"legend":null},
   "stroke":{"field":"g","type":"nominal","scale":{"domain":["r1","r2","b1","b2","g1","g2"],"range":["#dc2f3c","#cf0f1f","#5c95d2","#2e6fba","#82c466","#47a936"]},"legend":null}}}
]},
{"width":72.5,"height":72,"layer":[
 {"data":{"name":"bands"},"transform":[{"filter":"datum.b=='S8'"}],"mark":{"type":"rect","clip":true,"fill":"#5a4fa8","fillOpacity":0.45},
  "encoding":{
   "x":{"datum":-0.5,"type":"quantitative","scale":{"domain":[0,1.065],"nice":false,"zero":false},"axis":{"values":[0,0.4725,0.945],"labelExpr":"datum.value == 0 ? '0' : datum.value < 0.5 ? '0.472' : '0.945'","title":"Nidr"}},"x2":{"datum":2},
   "y":{"field":"lo","type":"quantitative","scale":{"domain":[0.682,0.873],"nice":false,"zero":false},"axis":{"values":[0.7,0.775,0.85],"labels":false,"title":null}},"y2":{"field":"hi"}}},
 {"data":{"name":"c"},"transform":[{"filter":"datum.p=='h'"}],
  "mark":{"type":"line","interpolate":"cardinal-closed","strokeWidth":0.8,"clip":true},
  "encoding":{
   "x":{"field":"x","type":"quantitative","scale":{"domain":[0,1.065],"nice":false,"zero":false},"axis":{"values":[0,0.4725,0.945],"labelExpr":"datum.value == 0 ? '0' : datum.value < 0.5 ? '0.472' : '0.945'","title":"Nidr"}},
   "y":{"field":"y","type":"quantitative","scale":{"domain":[0.682,0.873],"nice":false,"zero":false},"axis":{"values":[0.7,0.775,0.85],"labels":false,"title":null}},
   "order":{"field":"i","type":"quantitative"},
   "fill":{"field":"g","type":"nominal","scale":{"domain":["r1","r2","b1","b2","g1","g2"],"range":["#ec8a74","#cf0f1f","#8ab9e6","#2e6fba","#addb8f","#47a936"]},"legend":null},
   "stroke":{"field":"g","type":"nominal","scale":{"domain":["r1","r2","b1","b2","g1","g2"],"range":["#dc2f3c","#cf0f1f","#5c95d2","#2e6fba","#82c466","#47a936"]},"legend":null}}}
]},
{"width":72.5,"height":72,"layer":[
 {"data":{"name":"bands"},"transform":[{"filter":"datum.b=='S8'"}],"mark":{"type":"rect","clip":true,"fill":"#5a4fa8","fillOpacity":0.45},
  "encoding":{
   "x":{"datum":60,"type":"quantitative","scale":{"domain":[63.8,76.2],"nice":false,"zero":false},"axis":{"values":[65,70,75],"format":"~g","title":"H₀"}},"x2":{"datum":80},
   "y":{"field":"lo","type":"quantitative","scale":{"domain":[0.682,0.873],"nice":false,"zero":false},"axis":{"values":[0.7,0.775,0.85],"labels":false,"title":null}},"y2":{"field":"hi"}}},
 {"data":{"name":"bands"},"transform":[{"filter":"datum.b=='H0'"}],"mark":{"type":"rect","clip":true,"fill":"#40cde5","fillOpacity":0.34},
  "encoding":{
   "y":{"datum":0.6,"type":"quantitative","scale":{"domain":[0.682,0.873],"nice":false,"zero":false},"axis":{"values":[0.7,0.775,0.85],"labels":false,"title":null}},"y2":{"datum":0.95},
   "x":{"field":"lo","type":"quantitative","scale":{"domain":[63.8,76.2],"nice":false,"zero":false},"axis":{"values":[65,70,75],"format":"~g","title":"H₀"}},"x2":{"field":"hi"}}},
 {"data":{"name":"c"},"transform":[{"filter":"datum.p=='k'"}],
  "mark":{"type":"line","interpolate":"cardinal-closed","strokeWidth":0.8,"clip":true},
  "encoding":{
   "x":{"field":"x","type":"quantitative","scale":{"domain":[63.8,76.2],"nice":false,"zero":false},"axis":{"values":[65,70,75],"format":"~g","title":"H₀"}},
   "y":{"field":"y","type":"quantitative","scale":{"domain":[0.682,0.873],"nice":false,"zero":false},"axis":{"values":[0.7,0.775,0.85],"labels":false,"title":null}},
   "order":{"field":"i","type":"quantitative"},
   "fill":{"field":"g","type":"nominal","scale":{"domain":["r1","r2","b1","b2","g1","g2"],"range":["#ec8a74","#cf0f1f","#8ab9e6","#2e6fba","#addb8f","#47a936"]},"legend":null},
   "stroke":{"field":"g","type":"nominal","scale":{"domain":["r1","r2","b1","b2","g1","g2"],"range":["#dc2f3c","#cf0f1f","#5c95d2","#2e6fba","#82c466","#47a936"]},"legend":null}}}
]},
{"width":72.5,"height":72,"layer":[
 {"data":{"name":"bands"},"transform":[{"filter":"datum.b=='S8'"}],"mark":{"type":"rect","clip":true,"fill":"#5a4fa8","fillOpacity":0.45},
  "encoding":{
   "x":{"datum":-19.6,"type":"quantitative","scale":{"domain":[-19.535,-19.215],"nice":false,"zero":false},"axis":{"values":[-19.5,-19.375,-19.25],"labelExpr":"datum.value > -19.3 ? '-19.2' : datum.value > -19.45 ? '-19.4' : '-19.5'","title":"Mʙ"}},"x2":{"datum":-19.1},
   "y":{"field":"lo","type":"quantitative","scale":{"domain":[0.682,0.873],"nice":false,"zero":false},"axis":{"values":[0.7,0.775,0.85],"labels":false,"title":null}},"y2":{"field":"hi"}}},
 {"data":{"name":"bands"},"transform":[{"filter":"datum.b=='MB'"}],"mark":{"type":"rect","clip":true,"fill":"#f07300","fillOpacity":0.5},
  "encoding":{
   "y":{"datum":0.6,"type":"quantitative","scale":{"domain":[0.682,0.873],"nice":false,"zero":false},"axis":{"values":[0.7,0.775,0.85],"labels":false,"title":null}},"y2":{"datum":0.95},
   "x":{"field":"lo","type":"quantitative","scale":{"domain":[-19.535,-19.215],"nice":false,"zero":false},"axis":{"values":[-19.5,-19.375,-19.25],"labelExpr":"datum.value > -19.3 ? '-19.2' : datum.value > -19.45 ? '-19.4' : '-19.5'","title":"Mʙ"}},"x2":{"field":"hi"}}},
 {"data":{"name":"c"},"transform":[{"filter":"datum.p=='m'"}],
  "mark":{"type":"line","interpolate":"cardinal-closed","strokeWidth":0.8,"clip":true},
  "encoding":{
   "x":{"field":"x","type":"quantitative","scale":{"domain":[-19.535,-19.215],"nice":false,"zero":false},"axis":{"values":[-19.5,-19.375,-19.25],"labelExpr":"datum.value > -19.3 ? '-19.2' : datum.value > -19.45 ? '-19.4' : '-19.5'","title":"Mʙ"}},
   "y":{"field":"y","type":"quantitative","scale":{"domain":[0.682,0.873],"nice":false,"zero":false},"axis":{"values":[0.7,0.775,0.85],"labels":false,"title":null}},
   "order":{"field":"i","type":"quantitative"},
   "fill":{"field":"g","type":"nominal","scale":{"domain":["r1","r2","b1","b2","g1","g2"],"range":["#ec8a74","#cf0f1f","#8ab9e6","#2e6fba","#addb8f","#47a936"]},"legend":null},
   "stroke":{"field":"g","type":"nominal","scale":{"domain":["r1","r2","b1","b2","g1","g2"],"range":["#dc2f3c","#cf0f1f","#5c95d2","#2e6fba","#82c466","#47a936"]},"legend":null}}}
]}
],
"config": {
 "view": {"stroke": "#555555", "strokeWidth": 1},
 "axis": {"grid": false, "domain": false, "labelOverlap": false, "tickColor": "#555555", "tickSize": -3, "labelPadding": 6, "labelFont": "Liberation Sans", "labelFontSize": 8, "labelColor": "#222222", "titleFont": "DejaVu Serif", "titleFontStyle": "italic", "titleFontWeight": "normal", "titleFontSize": 11, "titleColor": "#222222"},
 "axisX": {"titlePadding": 1},
 "axisY": {"titlePadding": 1}
}
}
